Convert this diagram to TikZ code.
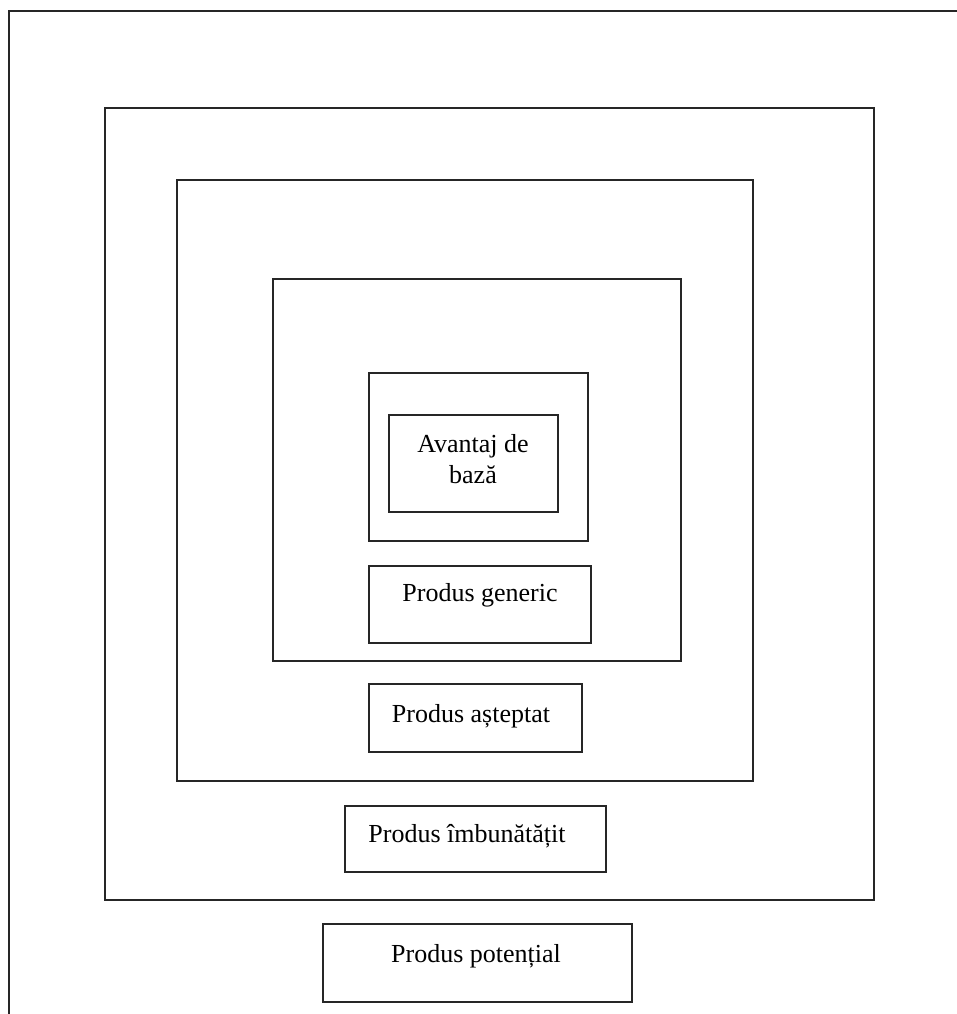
\documentclass[tikz,border=0pt]{standalone}
\usepackage{fontspec}
\setmainfont{Liberation Serif}
\begin{document}
\begin{tikzpicture}[x=1pt,y=-1pt,
  frame/.style={draw=black!85,line width=1.6pt},
  lbl/.style={anchor=base,inner sep=0pt,font=\fontsize{26}{30}\selectfont}]
\useasboundingbox (0,0) rectangle (957,1014);
\begin{scope}
\clip (0,0) rectangle (957,1014);
\draw[frame] (9,1030) -- (9,11) -- (980,11);
\end{scope}
\draw[frame] (105,108) rectangle (874,900);
\draw[frame] (177,180) rectangle (753,781);
\draw[frame] (273,279) rectangle (681,661);
\draw[frame] (369,373) rectangle (588,541);
% boxes
\draw[frame] (389,415) rectangle (558,512);
\draw[frame] (369,566) rectangle (591,643);
\draw[frame] (369,684) rectangle (582,752);
\draw[frame] (345,806) rectangle (606,872);
\draw[frame] (323,924) rectangle (632,1002);
% texts
\node[lbl] (t1) at (473,452) {Avantaj de};
\node[lbl] (t1b) at (473,483) {bază};
\node[lbl] (t2) at (480,601) {Produs generic};
\node[lbl] (t3) at (471,722) {Produs așteptat};
\node[lbl] (t4) at (467,842) {Produs îmbunătățit};
\node[lbl] (t5) at (476,962) {Produs potențial};
\end{tikzpicture}
\end{document}
